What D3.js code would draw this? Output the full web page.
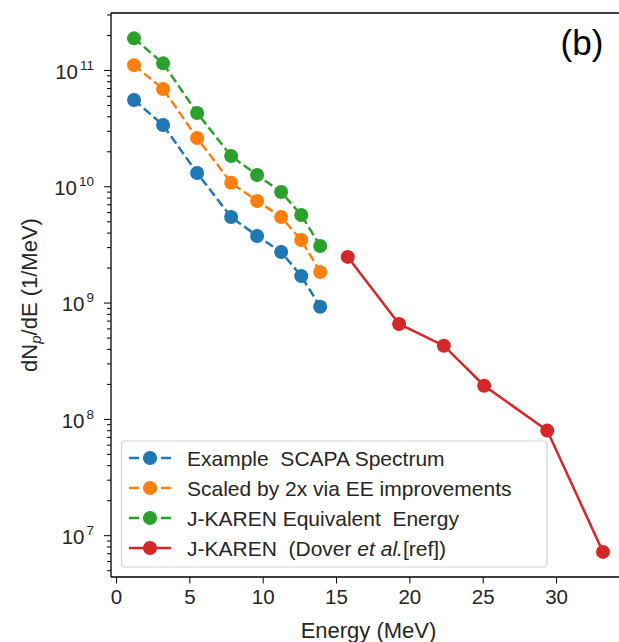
<!DOCTYPE html>
<html>
<head>
<meta charset="utf-8">
<title>Proton spectrum</title>
<script src="https://cdn.jsdelivr.net/npm/d3@7"></script>
<style>
  body { margin: 0; background: #fff; }
  svg { font-family: "Liberation Sans", Arial, sans-serif; }
  text { white-space: pre; }
</style>
</head>
<body>
<div id="chart"></div>
<script>
// energies (MeV) of the simulated spectra
var energySim = [1.23, 3.21, 5.53, 7.85, 9.62, 11.26, 12.63, 13.92];
var scapa  = [5.52e10, 3.36e10, 1.30e10, 5.44e9, 3.74e9, 2.72e9, 1.69e9, 9.2e8];
var scaled = [1.10e11, 6.87e10, 2.60e10, 1.07e10, 7.48e9, 5.44e9, 3.45e9, 1.83e9];
var equiv  = [1.87e11, 1.14e11, 4.27e10, 1.82e10, 1.25e10, 8.93e9, 5.66e9, 3.07e9];
// measured J-KAREN
var energyJK = [15.8, 19.3, 22.35, 25.1, 29.4, 33.2];
var jkaren   = [2.47e9, 6.55e8, 4.26e8, 1.93e8, 7.93e7, 7.18e6];

var xTicks = [0, 5, 10, 15, 20, 25, 30];
var yExps = [7, 8, 9, 10, 11];

var series = [
  {x: energySim, y: scapa,  color: "#1f77b4", dash: "9,4", label: ["Example  SCAPA Spectrum"]},
  {x: energySim, y: scaled, color: "#ff7f0e", dash: "9,4", label: ["Scaled by 2x via EE improvements"]},
  {x: energySim, y: equiv,  color: "#2ca02c", dash: "9,4", label: ["J-KAREN Equivalent  Energy"]},
  {x: energyJK,  y: jkaren, color: "#d62728", dash: null,  label: ["J-KAREN  (Dover ", "et al.", "[ref])"]}
];

var W = 619, H = 642;
var mLeft = 111, mRight = 626, mTop = 13, mBottom = 577;

var svg = d3.select("#chart").append("svg")
  .attr("width", W).attr("height", H);

var x = d3.scaleLinear().domain([-0.341, 34.77]).range([mLeft, mRight]);
var y = d3.scaleLog().domain([4.37e6, 3.09e11]).range([mBottom, mTop]);

svg.append("clipPath").attr("id", "clip")
  .append("rect").attr("x", mLeft).attr("y", mTop)
  .attr("width", mRight - mLeft).attr("height", mBottom - mTop);

// x axis
var gx = svg.append("g").attr("transform", "translate(0," + mBottom + ")")
  .call(d3.axisBottom(x).tickValues(xTicks).tickSize(6.5).tickPadding(6).tickFormat(d3.format("d")));
gx.select(".domain").remove();
gx.attr("font-family", null).attr("font-size", 20.5);
gx.selectAll("text").attr("fill", "#262626");
gx.selectAll("line").attr("stroke", "#000");

// y axis major
var gy = svg.append("g").attr("transform", "translate(" + mLeft + ",0)")
  .call(d3.axisLeft(y).tickValues(yExps.map(function(e) { return Math.pow(10, e); }))
    .tickSize(7).tickPadding(10));
gy.select(".domain").remove();
gy.attr("font-family", null).attr("font-size", 20.5);
gy.selectAll("line").attr("stroke", "#000");
gy.selectAll("text").attr("fill", "#262626")
  .attr("dy", "0.4em")
  .each(function(d) {
    var t = d3.select(this);
    var e = Math.round(Math.log10(d));
    t.text("");
    t.append("tspan").text("10");
    t.append("tspan").attr("dx", 2).attr("dy", -9).attr("font-size", 13.5).text(e);
  });

// y axis minor
var minor = [];
for (var e = 6; e <= 11; e++) {
  for (var m = 2; m <= 9; m++) {
    var v = m * Math.pow(10, e);
    if (v > y.domain()[0] && v < y.domain()[1]) minor.push(v);
  }
}
var gm = svg.append("g").attr("transform", "translate(" + mLeft + ",0)")
  .call(d3.axisLeft(y).tickValues(minor).tickSize(4).tickFormat(""));
gm.select(".domain").remove();
gm.selectAll("line").attr("stroke", "#000");

// spines
var spine = svg.append("g").attr("stroke", "#000").attr("stroke-width", 1.3);
spine.append("line").attr("x1", mLeft).attr("x2", mLeft).attr("y1", mTop).attr("y2", mBottom);
spine.append("line").attr("x1", mLeft).attr("x2", mRight).attr("y1", mTop).attr("y2", mTop);
spine.append("line").attr("x1", mLeft).attr("x2", mRight).attr("y1", mBottom).attr("y2", mBottom);
spine.append("line").attr("x1", mRight).attr("x2", mRight).attr("y1", mTop).attr("y2", mBottom);

// data
var plot = svg.append("g").attr("clip-path", "url(#clip)");
var line = d3.line().x(function(d) { return x(d[0]); }).y(function(d) { return y(d[1]); });

series.forEach(function(s) {
  var pts = s.x.map(function(v, i) { return [v, s.y[i]]; });
  plot.append("path").datum(pts)
    .attr("d", line).attr("fill", "none")
    .attr("stroke", s.color).attr("stroke-width", 2.5)
    .attr("stroke-dasharray", s.dash);
  plot.selectAll(null).data(pts).enter().append("circle")
    .attr("cx", function(d) { return x(d[0]); })
    .attr("cy", function(d) { return y(d[1]); })
    .attr("r", 7).attr("fill", s.color);
});

// axis labels
svg.append("text").attr("x", (mLeft + mRight) / 2).attr("y", 638)
  .attr("text-anchor", "middle").attr("font-size", 22).attr("fill", "#262626")
  .text("Energy (MeV)");

var yl = svg.append("text").attr("transform", "translate(37," + (mTop + mBottom) / 2 + ") rotate(-90)")
  .attr("text-anchor", "middle").attr("font-size", 22).attr("fill", "#262626");
yl.append("tspan").text("dN");
yl.append("tspan").attr("font-size", 15).attr("font-style", "italic").attr("dy", 4).text("p");
yl.append("tspan").attr("dy", -4).text("/dE (1/MeV)");

svg.append("text").attr("x", 582).attr("y", 55).attr("text-anchor", "middle")
  .attr("font-size", 35).attr("fill", "#000").text("(b)");

// legend
var lg = svg.append("g");
lg.append("rect").attr("x", 121.5).attr("y", 441).attr("width", 425.5).attr("height", 126)
  .attr("rx", 4).attr("fill", "#fff").attr("fill-opacity", 0.85)
  .attr("stroke", "#d0d0d0").attr("stroke-width", 1.2);
var rowY = [458, 488, 518, 548];
series.forEach(function(s, i) {
  var r = lg.append("g").attr("transform", "translate(0," + rowY[i] + ")");
  r.append("line").attr("x1", 129).attr("x2", 171).attr("y1", 0).attr("y2", 0)
    .attr("stroke", s.color).attr("stroke-width", 2.5)
    .attr("stroke-dasharray", s.dash ? "10,4,14,4,10" : null);
  r.append("circle").attr("cx", 150).attr("cy", 0).attr("r", 7).attr("fill", s.color);
  var t = r.append("text").attr("x", 187).attr("y", 7.5).attr("font-size", 21).attr("fill", "#262626");
  s.label.forEach(function(part, j) {
    t.append("tspan").attr("font-style", j === 1 ? "italic" : null).text(part);
  });
});
</script>
</body>
</html>
